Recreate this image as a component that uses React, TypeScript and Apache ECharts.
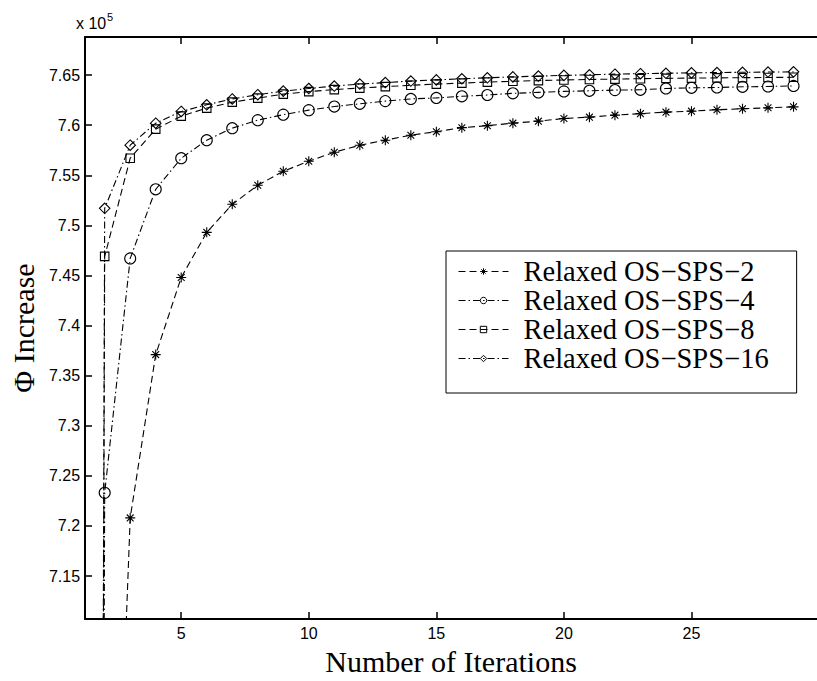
import React, { useEffect, useRef } from 'react';
import * as echarts from 'echarts';

const iterations = [1, 2, 3, 4, 5, 6, 7, 8, 9, 10, 11, 12, 13, 14, 15, 16, 17, 18, 19, 20, 21, 22, 23, 24, 25, 26, 27, 28, 29];

const sps2 = [0, 6.535, 7.208, 7.371, 7.448, 7.493, 7.521, 7.54, 7.554, 7.564, 7.573, 7.58, 7.585, 7.59, 7.5935, 7.5975, 7.5995, 7.602, 7.604, 7.6066, 7.608, 7.61, 7.6115, 7.613, 7.614, 7.6154, 7.6164, 7.6173, 7.6183];
const sps4 = [0, 7.233, 7.467, 7.536, 7.567, 7.585, 7.597, 7.605, 7.6105, 7.615, 7.6186, 7.6213, 7.624, 7.6262, 7.6272, 7.6288, 7.6301, 7.6318, 7.6327, 7.6337, 7.6343, 7.635, 7.6353, 7.6366, 7.6373, 7.6376, 7.6383, 7.6386, 7.6392];
const sps8 = [0, 7.469, 7.567, 7.596, 7.609, 7.617, 7.623, 7.627, 7.631, 7.6335, 7.6355, 7.637, 7.6385, 7.6398, 7.641, 7.642, 7.643, 7.6438, 7.6445, 7.6451, 7.6456, 7.646, 7.6464, 7.6467, 7.647, 7.6472, 7.6474, 7.6476, 7.6478];
const sps16 = [0, 7.517, 7.58, 7.602, 7.6137, 7.6203, 7.6262, 7.6304, 7.634, 7.6366, 7.639, 7.641, 7.6425, 7.644, 7.6452, 7.6463, 7.6473, 7.6482, 7.649, 7.6497, 7.6503, 7.6509, 7.6514, 7.6518, 7.6522, 7.6525, 7.6528, 7.653, 7.6532];

const seriesNames = ['Relaxed OS\u2212SPS\u22122', 'Relaxed OS\u2212SPS\u22124', 'Relaxed OS\u2212SPS\u22128', 'Relaxed OS\u2212SPS\u221216'];
const xTicks = [5, 10, 15, 20, 25];
const yTicks = [7.15, 7.2, 7.25, 7.3, 7.35, 7.4, 7.45, 7.5, 7.55, 7.6, 7.65];

const STAR = 'path://M5 0L5 10M0 5L10 5M1.6 1.6L8.4 8.4M1.6 8.4L8.4 1.6';
const DASH = [7, 4];
const DASHDOT = [7, 3, 1.5, 3];

export default function App() {
  const ref = useRef<HTMLDivElement>(null);
  useEffect(() => {
    if (!ref.current) return;
    const chart = echarts.init(ref.current, undefined, { renderer: 'svg' });
    const mk = (name: string, vals: number[], symbol: string, size: number, dash: number[], z: number) => ({
      type: 'line',
      name,
      data: iterations.map((x, i) => [x, vals[i]]),
      symbol,
      symbolSize: size,
      showAllSymbol: true,
      clip: true,
      z,
      color: '#000',
      lineStyle: { color: '#000', width: 1.1, type: dash },
      itemStyle: { color: 'transparent', borderColor: '#000', borderWidth: 1.1 },
      emphasis: { disabled: true },
    });
    const axisText = { fontFamily: 'Liberation Sans', fontSize: 16, color: '#000' };
    chart.setOption({
      animation: false,
      backgroundColor: '#fff',
      grid: { left: 76, top: 37, right: -7, bottom: 52, containLabel: false },
      xAxis: [
        {
          type: 'value', min: 1.23, max: 29.92, position: 'bottom',
          axisLine: { show: true, onZero: false, lineStyle: { color: '#000', width: 2 } },
          axisTick: { show: true, inside: true, length: 7, customValues: xTicks, lineStyle: { color: '#000', width: 1.5 } },
          axisLabel: { show: true, customValues: xTicks, margin: 6, ...axisText },
          splitLine: { show: false },
          name: 'Number of Iterations', nameLocation: 'middle', nameGap: 22,
          nameTextStyle: { fontFamily: 'Liberation Serif', fontSize: 30, color: '#000' },
        },
        {
          type: 'value', min: 1.23, max: 29.92, position: 'top',
          axisLine: { show: true, onZero: false, lineStyle: { color: '#000', width: 2 } },
          axisTick: { show: true, inside: true, length: 7, customValues: xTicks, lineStyle: { color: '#000', width: 1.5 } },
          axisLabel: { show: false },
          splitLine: { show: false },
        },
      ],
      yAxis: {
        type: 'value', min: 7.107, max: 7.688,
        axisLine: { show: true, onZero: false, lineStyle: { color: '#000', width: 2 } },
        axisTick: { show: true, inside: true, length: 7, customValues: yTicks, lineStyle: { color: '#000', width: 1.5 } },
        axisLabel: {
          show: true, customValues: yTicks, margin: 5, ...axisText,
          formatter: (v: number) => String(parseFloat(Number(v).toFixed(2))),
        },
        splitLine: { show: false },
        name: '\u03A6 Increase', nameLocation: 'middle', nameGap: 44,
        nameTextStyle: { fontFamily: 'Liberation Serif', fontSize: 30, color: '#000' },
      },
      legend: {
        orient: 'vertical', left: 446, top: 251,
        data: seriesNames,
        itemWidth: 50, itemHeight: 8, itemGap: 0,
        padding: [6, 28, 20, 12],
        borderColor: '#000', borderWidth: 1, backgroundColor: '#fff',
        itemStyle: { color: 'transparent', borderColor: '#000', borderWidth: 1 },
        lineStyle: { color: '#000', width: 1 },
        textStyle: { fontFamily: 'Liberation Serif', fontSize: 28.5, color: '#000', padding: [0, 0, 0, 10] },
        selectedMode: false,
      },
      graphic: [
        { type: 'text', x: 76, y: 23.8, style: { text: 'x 10', font: '16px "Liberation Sans"', fill: '#000', verticalAlign: 'middle' } },
        { type: 'text', x: 107, y: 17, style: { text: '5', font: '11px "Liberation Sans"', fill: '#000', verticalAlign: 'middle' } },
      ],
      series: [
        mk(seriesNames[0], sps2, STAR, 10, DASH, 2),
        mk(seriesNames[1], sps4, 'circle', 11, DASHDOT, 3),
        mk(seriesNames[2], sps8, 'rect', 8.5, DASH, 4),
        mk(seriesNames[3], sps16, 'diamond', 10.5, DASHDOT, 5),
      ],
    });
    return () => chart.dispose();
  }, []);
  return <div ref={ref} style={{ position: 'absolute', left: 0, top: 0, width: 817, height: 681, background: '#fff' }} />;
}
